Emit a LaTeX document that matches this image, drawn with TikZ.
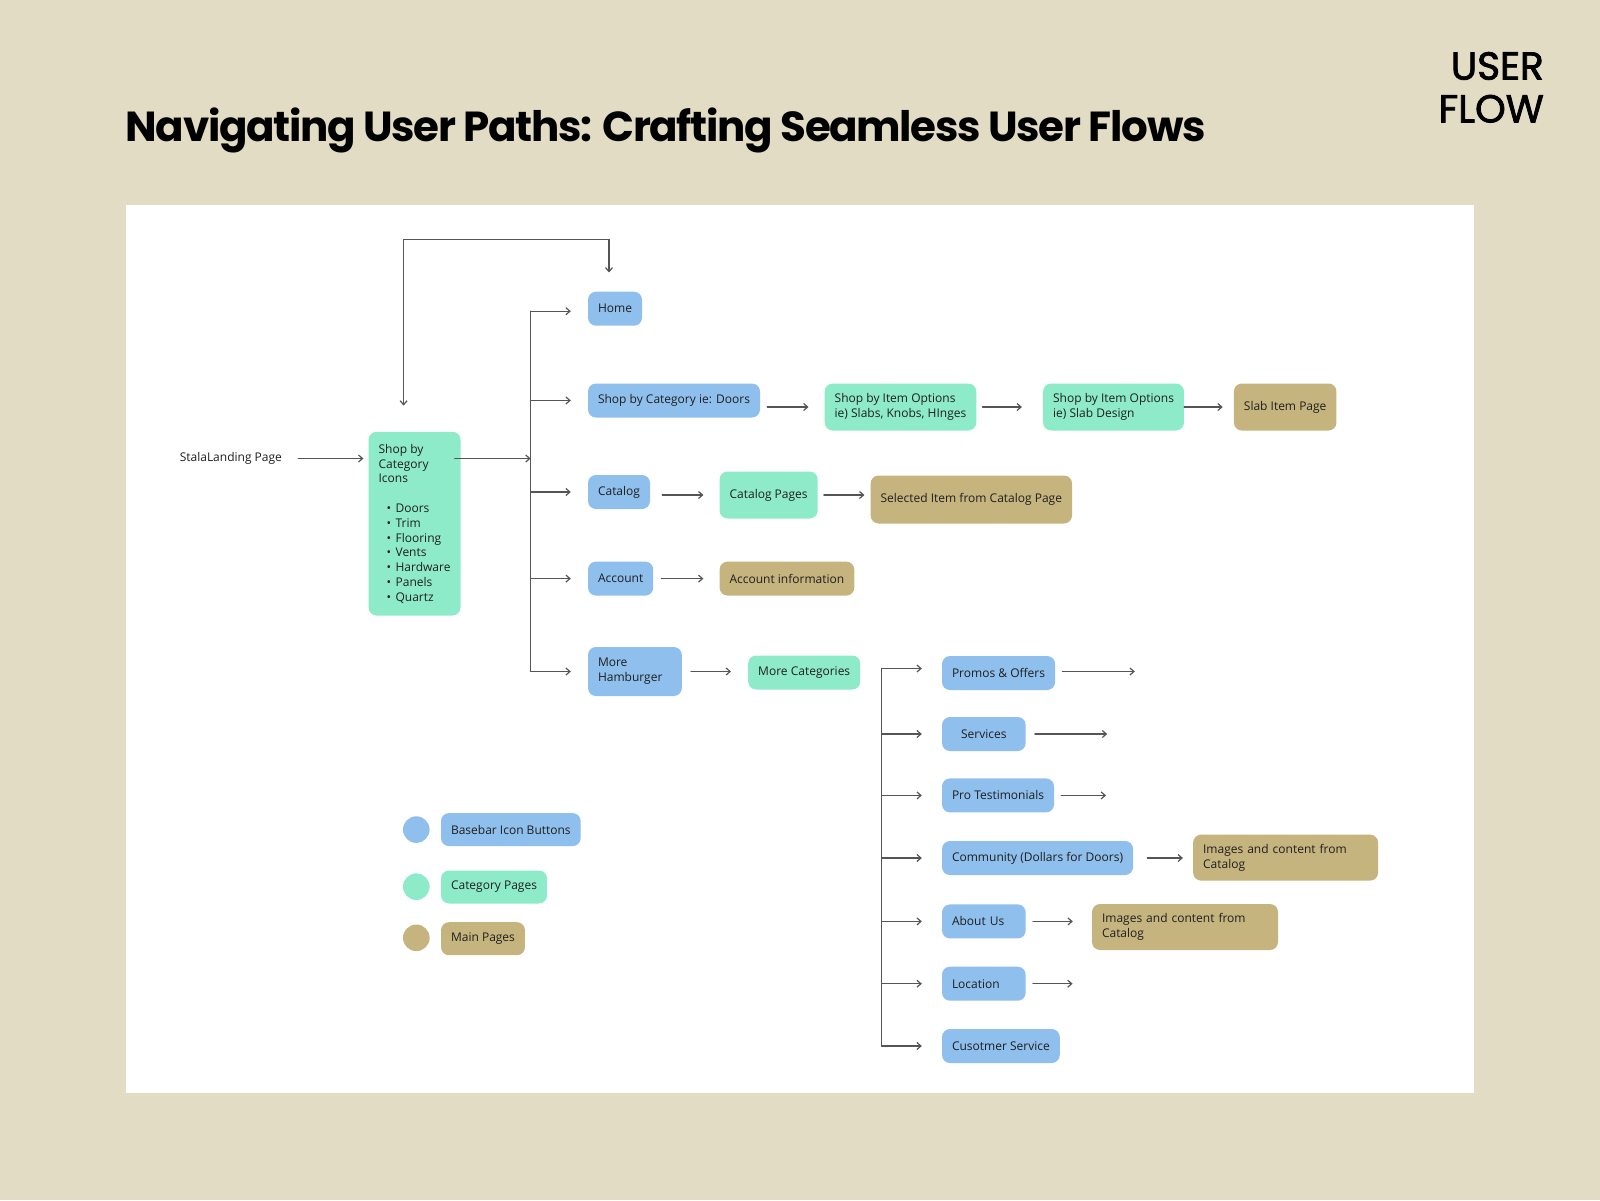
\documentclass[tikz,border=0pt]{standalone}
\usepackage{fontspec}
\setmainfont{Open Sans}
\newfontfamily\poppins{Poppins}[LetterSpace=-3.2]
\newfontfamily\poppinsmed{Poppins}[FakeBold=2]
\usetikzlibrary{arrows.meta}
\definecolor{bgbeige}{HTML}{E3DCC4}
\definecolor{btnblue}{HTML}{8FBFEC}
\definecolor{catgreen}{HTML}{8EEBC9}
\definecolor{maintan}{HTML}{C6B47F}
\definecolor{linegray}{HTML}{555555}
\definecolor{inkdark}{HTML}{1F1F1F}

\begin{document}
\begin{tikzpicture}[x=1pt,y=-1pt,>={Straight Barb[length=4pt,width=7pt]},line cap=round,
  box/.style={rounded corners=8pt,inner xsep=10pt,inner ysep=0pt,minimum height=34pt,
    align=left,anchor=west,text=inkdark,font=\fontsize{12}{14.8}\selectfont},
  btn/.style={box,fill=btnblue},
  catpg/.style={box,fill=catgreen},
  mainpg/.style={box,fill=maintan},
  legdot/.style={circle,inner sep=0pt,minimum size=26.6pt},
  flow/.style={->,linegray,line width=1.2pt},
  trunkline/.style={linegray,line width=1.2pt}]
% page and panel
\fill[bgbeige] (0,0) rectangle (1600,1200);
\fill[white] (125.5,205) rectangle (1473.5,1093);
\node[anchor=base west,inner sep=0pt,font=\poppins\bfseries\fontsize{42}{42}\selectfont] (title) at (125.5,141.5)
  {Navigating User Paths: Crafting Seamless User Flows};
\node[anchor=base east,inner sep=0pt,font=\poppinsmed\fontsize{39}{39}\selectfont] (userword) at (1544,79.6) {USER};
\node[anchor=base east,inner sep=0pt,font=\poppinsmed\fontsize{39}{39}\selectfont] (flowword) at (1544,122.4) {FLOW};

% entry
\node[anchor=west,inner sep=0pt,text=inkdark,font=\fontsize{12}{14.8}\selectfont] (landing) at (179.6,458.5) {StalaLanding Page};
\node[catpg,anchor=north west,inner ysep=9pt,minimum height=183.7pt] (icons) at (368.4,431.6)
  {Shop by\\Category\\Icons\\[14.8pt]
   \hspace*{8pt}\makebox[9pt][l]{\textbullet}Doors\\
   \hspace*{8pt}\makebox[9pt][l]{\textbullet}Trim\\
   \hspace*{8pt}\makebox[9pt][l]{\textbullet}Flooring\\
   \hspace*{8pt}\makebox[9pt][l]{\textbullet}Vents\\
   \hspace*{8pt}\makebox[9pt][l]{\textbullet}Hardware\\
   \hspace*{8pt}\makebox[9pt][l]{\textbullet}Panels\\
   \hspace*{8pt}\makebox[9pt][l]{\textbullet}Quartz};

% main menu
\node[btn] (home) at (587.8,308.7) {Home};
\node[btn] (doorcat) at (587.8,400.5) {Shop by Category ie: Doors};
\node[catpg,minimum height=47pt] (itemopt) at (824.5,407) {Shop by Item Options\\ie) Slabs, Knobs, HInges};
\node[catpg,minimum height=47pt] (slabdes) at (1042.9,407) {Shop by Item Options\\ie) Slab Design};
\node[mainpg,minimum height=47pt] (slabitem) at (1233.7,407) {Slab Item Page};
\node[btn] (catalog) at (587.8,492) {Catalog};
\node[catpg,minimum height=47pt] (catpages) at (719.4,495) {Catalog Pages};
\node[mainpg,minimum height=48pt] (selitem) at (870.4,499.5) {Selected Item from Catalog Page};
\node[btn] (account) at (587.8,578.6) {Account};
\node[mainpg] (accinfo) at (719.4,578.6) {Account information};
\node[btn,minimum height=49pt,text width=73.8pt] (hamb) at (587.8,671.5) {More\\Hamburger};
\node[catpg] (morecat) at (748,672.5) {More Categories};

% more menu
\node[btn] (promos) at (941.8,673) {Promos \& Offers};
\node[btn,text width=63.7pt,align=center] (services) at (941.8,734) {Services};
\node[btn] (protest) at (941.8,795.4) {Pro Testimonials};
\node[btn] (community) at (941.8,858) {Community (Dollars for Doors)};
\node[mainpg,minimum height=46pt,text width=165pt] (commimg) at (1192.9,857.6) {Images and content from\\Catalog};
\node[btn,text width=63.7pt] (aboutus) at (941.8,921.4) {About Us};
\node[mainpg,minimum height=46pt,text width=166pt] (aboutimg) at (1091.8,927) {Images and content from\\Catalog};
\node[btn,text width=63.7pt] (location) at (941.8,983.7) {Location};
\node[btn] (custserv) at (941.8,1046) {Cusotmer Service};

% legend
\node[legdot,fill=btnblue] (dotbtn) at (416.3,829.6) {};
\node[legdot,fill=catgreen] (dotcat) at (416.3,886.7) {};
\node[legdot,fill=maintan] (dotmain) at (416.3,937.8) {};
\node[btn,minimum height=33pt] (legbtn) at (440.8,829.6) {Basebar Icon Buttons};
\node[catpg,minimum height=33pt] (legcat) at (440.8,887) {Category Pages};
\node[mainpg,minimum height=33pt] (legmain) at (440.8,938.7) {Main Pages};

% connectors
\coordinate (trunk) at (530.6,458.5);
\coordinate (subtrunk) at (881.6,858);
\draw[flow] ([xshift=16pt]landing.east) -- ([xshift=-5pt]icons.west |- landing);
\draw[flow] ([xshift=-6pt]icons.east |- trunk) -- (trunk);
\draw[flow,<->] ([xshift=-11pt,yshift=26pt]icons.north) -- ++(0,-166) -| ([xshift=-6pt,yshift=19pt]home.north);
\draw[trunkline] ([yshift=-2.5pt]trunk |- home) -- (trunk |- hamb);
\draw[flow] ([yshift=-2.5pt]trunk |- home) -- ([xshift=-17pt,yshift=-2.5pt]home.west);
\foreach \dest in {doorcat,catalog,account,hamb}
  \draw[flow] (trunk |- \dest) -- ([xshift=-17pt]\dest.west);
\draw[flow] ([xshift=7pt]doorcat.east |- itemopt) -- ([xshift=-16pt]itemopt.west);
\draw[flow] ([xshift=6pt]itemopt.east) -- ([xshift=-21pt]slabdes.west);
\draw[flow] (slabdes.east) -- ([xshift=-11pt]slabitem.west);
\draw[flow] ([xshift=12pt]catalog.east |- catpages) -- ([xshift=-16pt]catpages.west);
\draw[flow] ([xshift=6pt]catpages.east) -- ([xshift=-6pt]selitem.west |- catpages);
\draw[flow] ([xshift=8pt]account.east) -- ([xshift=-16pt]accinfo.west);
\draw[flow] ([xshift=9pt]hamb.east) -- ([xshift=-17pt]morecat.west |- hamb);
\draw[trunkline] ([yshift=4.5pt]subtrunk |- promos) -- (subtrunk |- custserv);
\draw[flow] ([yshift=4.5pt]subtrunk |- promos) -- ([xshift=-20pt,yshift=4.5pt]promos.west);
\foreach \dest in {services,protest,community,aboutus,location,custserv}
  \draw[flow] (subtrunk |- \dest) -- ([xshift=-20pt]\dest.west);
\draw[flow] ([xshift=7pt,yshift=1.5pt]promos.east) -- ++(72.5,0);
\draw[flow] ([xshift=9pt]services.east) -- ++(72.3,0);
\draw[flow] ([xshift=7pt]protest.east) -- ++(44.8,0);
\draw[flow] ([xshift=14pt]community.east) -- ([xshift=-10pt]commimg.west |- community);
\draw[flow] ([xshift=7pt]aboutus.east) -- ([xshift=-19pt]aboutimg.west |- aboutus);
\draw[flow] ([xshift=7pt]location.east) -- ++(39.7,0);
\end{tikzpicture}
\end{document}
